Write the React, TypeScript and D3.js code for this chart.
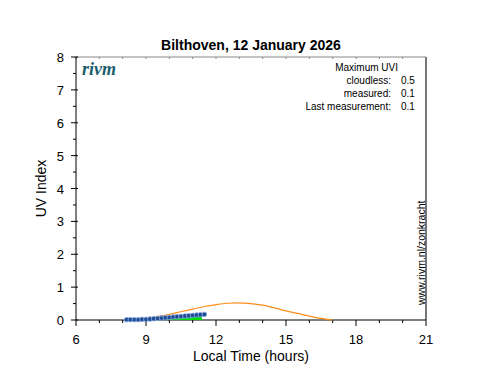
import React from "react";
import * as d3 from "d3";

const title = "Bilthoven, 12 January 2026";
const xTicks = [6, 9, 12, 15, 18, 21];
const yTicks = [0, 1, 2, 3, 4, 5, 6, 7, 8];

const cloudlessHours = [8.7, 9, 9.5, 10, 10.5, 11, 11.5, 12, 12.5, 12.9, 13.5, 14, 14.5, 15, 15.5, 16, 16.5, 17];
const cloudlessUV = [0, 0.04, 0.1, 0.17, 0.25, 0.33, 0.41, 0.47, 0.51, 0.52, 0.5, 0.45, 0.37, 0.28, 0.2, 0.12, 0.05, 0];

const measuredHours = [8.17, 8.33, 8.5, 8.67, 8.83, 9.0, 9.17, 9.33, 9.5, 9.67, 9.83, 10.0, 10.17, 10.33, 10.5, 10.67, 10.83, 11.0, 11.17, 11.33, 11.5];
const measuredUV = [0.01, 0.01, 0.01, 0.01, 0.02, 0.02, 0.03, 0.04, 0.05, 0.06, 0.07, 0.08, 0.09, 0.1, 0.11, 0.12, 0.13, 0.14, 0.15, 0.16, 0.17];

const greenHours = [9.9, 10.2, 10.5, 10.8, 11.1, 11.4];
const greenUV = [0.07, 0.09, 0.1, 0.11, 0.12, 0.12];

const legendLabels = ["cloudless:", "measured:", "Last measurement:"];
const legendValues = ["0.5", "0.1", "0.1"];

const W = 502, H = 377;
const L = 76, R = 426, T = 57, B = 320;

export default function App() {
  const x = d3.scaleLinear().domain([6, 21]).range([L, R]);
  const y = d3.scaleLinear().domain([0, 8]).range([B, T]);
  const font = "'Liberation Sans', Arial, sans-serif";

  const cloudLine = d3
    .line<number>()
    .x((_, i) => x(cloudlessHours[i]))
    .y((d) => y(d))
    .curve(d3.curveMonotoneX)(cloudlessUV) || "";

  const greenArea = d3
    .area<number>()
    .x((_, i) => x(greenHours[i]))
    .y0(y(0))
    .y1((d) => y(d))(greenUV) || "";

  const measLine = d3
    .line<number>()
    .x((_, i) => x(measuredHours[i]))
    .y((d) => y(d))(measuredUV) || "";

  const minorX = d3.range(6, 22, 1);
  const minorY = d3.range(0, 8.01, 0.5);

  return (
    <svg width={W} height={H} style={{ display: "block", position: "absolute", left: 0, top: 0 }} fontFamily={font}>
      <rect width={W} height={H} fill="#fff" />
      {/* frame */}
      <line x1={L} x2={R} y1={T} y2={T} stroke="#888" strokeWidth={1} />
      <line x1={R} x2={R} y1={T} y2={B} stroke="#777" strokeWidth={2} />
      {/* top ticks */}
      {minorX.map((h) => (
        <line key={"tt" + h} x1={x(h)} x2={x(h)} y1={T} y2={T + 2} stroke="#888" />
      ))}
      {/* x ticks */}
      {minorX.map((h) => (
        <line key={"xt" + h} x1={x(h)} x2={x(h)} y1={B} y2={B + (h % 3 === 0 ? 6 : 3)} stroke="#000" />
      ))}
      {/* y ticks */}
      {minorY.map((v) => (
        <line key={"yt" + v} x1={L - (v % 1 === 0 ? 5 : 3)} x2={L + (v % 1 === 0 ? 2 : 0)} y1={y(v)} y2={y(v)} stroke="#000" />
      ))}
      <line x1={L} x2={L} y1={T} y2={B} stroke="#000" />
      <line x1={L} x2={R} y1={B} y2={B} stroke="#000" />
      {xTicks.map((t) => (
        <text key={"xl" + t} x={x(t)} y={B + 24} fontSize={13} textAnchor="middle">{t}</text>
      ))}
      {yTicks.map((t) => (
        <text key={"yl" + t} x={L - 12} y={y(t) + 5} fontSize={13} textAnchor="end">{t}</text>
      ))}
      <text x={251} y={50} fontSize={14} fontWeight="bold" textAnchor="middle">{title}</text>
      <text x={251} y={361} fontSize={14} textAnchor="middle">Local Time (hours)</text>
      <text transform={`translate(46,${(T + B) / 2}) rotate(-90)`} fontSize={14} textAnchor="middle">UV Index</text>
      {/* logo */}
      <text x={82} y={75} fontSize={18} fontStyle="italic" fontWeight="bold" fill="#1b5e6b" fontFamily="'Liberation Serif', 'DejaVu Serif', serif">rivm</text>
      {/* legend */}
      <text x={398} y={71} fontSize={10} textAnchor="end">Maximum UVI</text>
      {legendLabels.map((l, i) => (
        <g key={l}>
          <text x={391} y={84 + i * 13} fontSize={10} textAnchor="end">{l}</text>
          <text x={401} y={84 + i * 13} fontSize={10}>{legendValues[i]}</text>
        </g>
      ))}
      <text transform={`translate(425,305) rotate(-90)`} fontSize={10.5}>www.rivm.nl/zonkracht</text>
      {/* data */}
      <path d={greenArea} fill="#00dd00" />
      <path d={cloudLine} fill="none" stroke="#ff8c1a" strokeWidth={1.2} />
      <path d={measLine} fill="none" stroke="#1a3f8c" strokeWidth={2} />
      {measuredHours.map((h, i) => (
        <rect key={"m" + i} x={x(h) - 2.2} y={y(measuredUV[i]) - 2.2} width={4.4} height={4.4} rx={1.5} fill="#1f4a96" stroke="#8fb0e0" strokeWidth={0.8} />
      ))}
    </svg>
  );
}
